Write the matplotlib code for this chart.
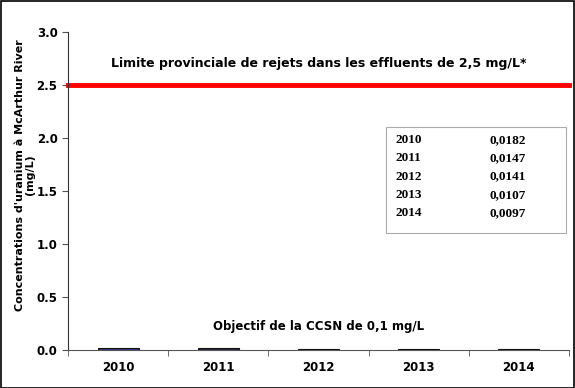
import matplotlib
matplotlib.use('Agg')
import matplotlib.pyplot as plt
from matplotlib.patches import Rectangle

years = ['2010', '2011', '2012', '2013', '2014']
uranium = [0.0182, 0.0147, 0.0141, 0.0107, 0.0097]
table_values = ['0,0182', '0,0147', '0,0141', '0,0107', '0,0097']
provincial_limit = 2.5
bar_colors = ['#3a3a80', '#2a2a40', '#2a2a40', '#1a1a22', '#1a1a22']

plt.rcParams['font.family'] = ['DejaVu Sans']

fig = plt.figure(figsize=(5.75, 3.88), dpi=100)
ax = fig.add_axes([68 / 575, 1 - 350 / 388, 501 / 575, 318 / 388])

x = list(range(len(years)))
ax.bar(x, uranium, width=0.41, color=bar_colors, edgecolor='#111111', linewidth=0.8)
ax.axhline(provincial_limit, color='#ff0000', linewidth=3.5, clip_on=False)

ax.set_xlim(-0.5, len(years) - 0.5)
ax.set_ylim(0, 3.0)
yt = [0, 0.5, 1.0, 1.5, 2.0, 2.5, 3.0]
ax.set_yticks(yt)
ax.set_yticklabels(['%.1f' % v for v in yt], fontsize=8.5, fontweight='bold')
ax.set_xticks(x)
ax.set_xticklabels(years, fontsize=8.5, fontweight='bold')
ax.tick_params(axis='x', length=0, pad=8)
ax.set_xticks([i - 0.5 for i in range(len(years) + 1)], minor=True)
ax.tick_params(axis='x', which='minor', length=4, direction='out', color='#555555')
ax.tick_params(axis='y', length=4, direction='out', color='#555555')

for side in ['top', 'right']:
    ax.spines[side].set_visible(False)
ax.spines['left'].set_color('#333333')
ax.spines['bottom'].set_color('#555555')

ax.set_ylabel("Concentrations d'uranium à McArthur River\n(mg/L)", fontsize=8,
              fontweight='bold', linespacing=1.0)
ax.yaxis.set_label_coords(-0.066, 0.55)

ax.text(2, 2.70, 'Limite provinciale de rejets dans les effluents de 2,5 mg/L*',
        ha='center', va='center', fontsize=9, fontweight='bold')
ax.text(2, 0.225, 'Objectif de la CCSN de 0,1 mg/L',
        ha='center', va='center', fontsize=8.5, fontweight='bold')

# value box
fig.patches.append(Rectangle((386 / 575, 1 - 233 / 388), 180 / 575, 106 / 388,
                             transform=fig.transFigure, facecolor='white',
                             edgecolor='#aaaaaa', linewidth=0.8))
for i, (yr, val) in enumerate(zip(years, table_values)):
    ypx = 140 + i * 18.3
    fig.text(395 / 575, 1 - ypx / 388, yr, fontsize=9.5, fontweight='bold',
             family='Liberation Serif', va='center')
    fig.text(490 / 575, 1 - ypx / 388, val, fontsize=9.5, fontweight='bold',
             family='Liberation Serif', va='center')

# figure border
fig.patches.append(Rectangle((0.001, 0.001), 0.997, 0.996, transform=fig.transFigure,
                             fill=False, edgecolor='black', linewidth=1.2))

fig.savefig('out.png', dpi=100)
